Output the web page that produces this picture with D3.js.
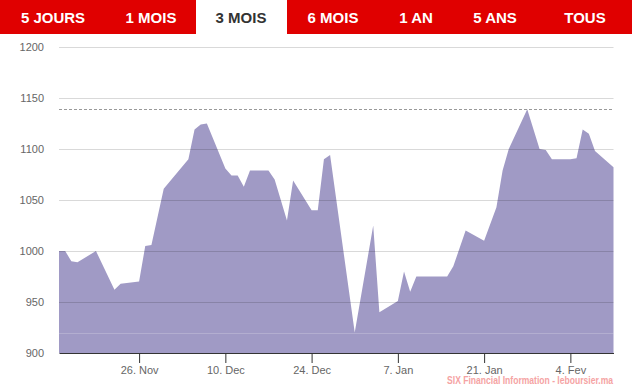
<!DOCTYPE html>
<html>
<head>
<meta charset="utf-8">
<script src="https://cdn.jsdelivr.net/npm/d3@7"></script>
<style>
  html, body { margin: 0; padding: 0; background: #fff; }
  svg { display: block; }
</style>
</head>
<body>
<svg id="chart" width="632" height="391"></svg>
<script>
// ---- data ----
const tabLabels = ["5 JOURS", "1 MOIS", "3 MOIS", "6 MOIS", "1 AN", "5 ANS", "TOUS"];
const activeTab = "3 MOIS";

const dates = ["2018-11-13","2018-11-14","2018-11-15","2018-11-16","2018-11-19","2018-11-22","2018-11-23",
  "2018-11-26","2018-11-27","2018-11-28","2018-11-30","2018-12-04","2018-12-05","2018-12-06","2018-12-07",
  "2018-12-10","2018-12-11","2018-12-12","2018-12-13","2018-12-14","2018-12-17","2018-12-18","2018-12-20",
  "2018-12-21","2018-12-24","2018-12-25","2018-12-26","2018-12-27","2018-12-31","2019-01-03","2019-01-04",
  "2019-01-07","2019-01-08","2019-01-09","2019-01-10","2019-01-15","2019-01-16","2019-01-18","2019-01-21",
  "2019-01-23","2019-01-24","2019-01-25","2019-01-28","2019-01-30","2019-01-31","2019-02-01","2019-02-04",
  "2019-02-05","2019-02-06","2019-02-07","2019-02-08","2019-02-11"];
const values = [1000,1000,990,989,1000,962,968,
  970,1005,1006,1061,1090,1119,1124,1125,
  1081,1074,1074,1063,1079,1079,1070,1030,
  1069,1040,1040,1090,1094,920,1025,940,
  951,980,960,975,975,985,1020,1010,
  1043,1079,1100,1139,1100,1099,1090,1090,
  1091,1119,1115,1098,1082];

const xDomain = ["2018-11-13", "2019-02-11"];
const yTicks = [900, 950, 1000, 1050, 1100, 1150, 1200];
const xTickDates = ["2018-11-26","2018-12-10","2018-12-24","2019-01-07","2019-01-21","2019-02-04"];
const xTickLabels = ["26. Nov", "10. Dec", "24. Dec", "7. Jan", "21. Jan", "4. Fev"];
const creditText = "SIX Financial Information - leboursier.ma";

// ---- layout ----
const parse = d3.utcParse("%Y-%m-%d");
const data = dates.map((d, i) => ({ date: parse(d), value: values[i] }));
const svg = d3.select("#chart");
const font = "'Liberation Sans', Arial, sans-serif";

const plot = { left: 59, right: 613.5, top: 47, bottom: 353 };
const x = d3.scaleUtc().domain(xDomain.map(parse)).range([plot.left, plot.right]);
const y = d3.scaleLinear().domain([900, 1200]).range([plot.bottom, plot.top]);

// ---- tabs ----
const tabCenters = [53, 151, 241, 333, 416, 495, 585];
svg.append("rect").attr("x", 0).attr("y", 0).attr("width", 632).attr("height", 34).attr("fill", "#e00000");
svg.append("rect").attr("x", 196).attr("y", 0).attr("width", 91).attr("height", 34).attr("fill", "#fff");
svg.append("g").selectAll("text").data(tabLabels).join("text")
  .attr("x", (d, i) => tabCenters[i])
  .attr("y", 23)
  .attr("text-anchor", "middle")
  .attr("font-family", font)
  .attr("font-weight", "bold")
  .attr("font-size", 15)
  .attr("fill", d => d === activeTab ? "#333" : "#fff")
  .text(d => d);

// ---- area ----
const area = d3.area().x(d => x(d.date)).y0(y(900)).y1(d => y(d.value));
svg.append("path").datum(data).attr("d", area).attr("fill", "#a09ac5");

// ---- gridlines (drawn over area, semi transparent) ----
svg.append("g").selectAll("line").data(yTicks.filter(v => v !== 900)).join("line")
  .attr("x1", plot.left).attr("x2", plot.right)
  .attr("y1", d => y(d) + 0.5).attr("y2", d => y(d) + 0.5)
  .attr("stroke", "rgba(0,0,0,0.15)").attr("stroke-width", 1);

// max / min lines
const vMax = d3.max(values), vMin = d3.min(values);
svg.append("line")
  .attr("x1", plot.left).attr("x2", plot.right)
  .attr("y1", Math.round(y(vMax)) + 0.5).attr("y2", Math.round(y(vMax)) + 0.5)
  .attr("stroke", "#999").attr("stroke-dasharray", "3,2").attr("stroke-width", 1);
svg.append("line")
  .attr("x1", plot.left).attr("x2", plot.right)
  .attr("y1", Math.round(y(vMin)) + 0.5).attr("y2", Math.round(y(vMin)) + 0.5)
  .attr("stroke", "rgba(255,255,255,0.2)").attr("stroke-width", 1);

// ---- y axis labels ----
svg.append("g").selectAll("text").data(yTicks).join("text")
  .attr("x", 44).attr("y", d => y(d) + 4)
  .attr("text-anchor", "end")
  .attr("font-family", font).attr("font-size", 11).attr("fill", "#666")
  .text(d => d);

// ---- x axis ----
const xAxis = d3.axisBottom(x)
  .tickValues(xTickDates.map(parse))
  .tickFormat((d, i) => xTickLabels[i])
  .tickSize(10).tickSizeOuter(0).tickPadding(3);
const gx = svg.append("g").attr("transform", `translate(0,${plot.bottom})`).call(xAxis);
gx.select(".domain").attr("stroke", "#333");
gx.selectAll(".tick line").attr("stroke", "#333");
gx.selectAll(".tick text").attr("font-family", font).attr("font-size", 11).attr("fill", "#666");

// ---- credit (horizontally condensed) ----
svg.append("text")
  .attr("transform", "translate(613,384) scale(0.857,1)")
  .attr("text-anchor", "end")
  .attr("font-family", font)
  .attr("font-weight", "bold")
  .attr("font-size", 10).attr("fill", "#f5a3a3")
  .text(creditText);
</script>
</body>
</html>
